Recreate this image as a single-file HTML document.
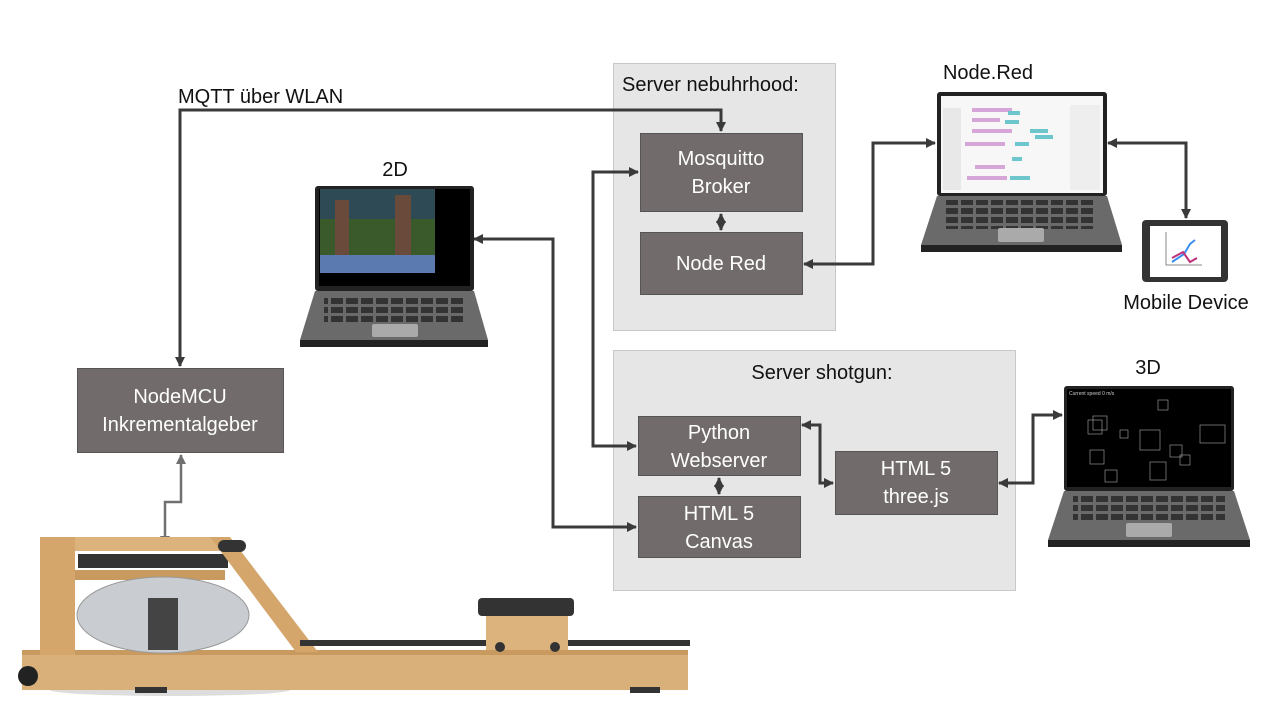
<!DOCTYPE html>
<html><head><meta charset="utf-8"><style>
html,body{margin:0;padding:0;background:#fff}
svg{display:block}
text{font-family:"Liberation Sans","DejaVu Sans",sans-serif}
</style></head><body>
<svg width="1280" height="720" viewBox="0 0 1280 720" xmlns="http://www.w3.org/2000/svg">
<defs>
<marker id="a" markerWidth="10" markerHeight="10" refX="9" refY="5" orient="auto-start-reverse" markerUnits="userSpaceOnUse"><path d="M0,0 L10,5 L0,10 z" fill="#3a3a3a"/></marker>
<marker id="g" markerWidth="10" markerHeight="10" refX="9" refY="5" orient="auto-start-reverse" markerUnits="userSpaceOnUse"><path d="M0,0 L10,5 L0,10 z" fill="#707070"/></marker>
<pattern id="keys" width="15" height="9" patternUnits="userSpaceOnUse"><rect x="1" y="1" width="12" height="6" fill="#333"/></pattern>
</defs>

<rect x="613.5" y="63.5" width="222" height="267" fill="#e6e6e6" stroke="#c8c8c8"/>
<text x="622" y="91" font-size="20" fill="#111">Server nebuhrhood:</text>
<rect x="613.5" y="350.5" width="402" height="240" fill="#e6e6e6" stroke="#c8c8c8"/>
<text x="822" y="379" font-size="20" fill="#111" text-anchor="middle">Server shotgun:</text>

<g fill="#716c6b" stroke="#555" stroke-width="1">
<rect x="640.5" y="133.5" width="162" height="78"/>
<rect x="640.5" y="232.5" width="162" height="62"/>
<rect x="638.5" y="416.5" width="162" height="59"/>
<rect x="638.5" y="496.5" width="162" height="61"/>
<rect x="835.5" y="451.5" width="162" height="63"/>
<rect x="77.5" y="368.5" width="206" height="84"/>
</g>
<g fill="#fff" font-size="20" text-anchor="middle">
<text x="721" y="165">Mosquitto</text><text x="721" y="193">Broker</text>
<text x="721" y="270">Node Red</text>
<text x="719" y="439">Python</text><text x="719" y="467">Webserver</text>
<text x="719" y="520">HTML 5</text><text x="719" y="548">Canvas</text>
<text x="916" y="475">HTML 5</text><text x="916" y="503">three.js</text>
<text x="180" y="403">NodeMCU</text><text x="180" y="431">Inkrementalgeber</text>
</g>

<g font-size="20" fill="#111">
<text x="178" y="103">MQTT über WLAN</text>
<text x="395" y="176" text-anchor="middle">2D</text>
<text x="988" y="79" text-anchor="middle">Node.Red</text>
<text x="1186" y="309" text-anchor="middle">Mobile Device</text>
<text x="1148" y="374" text-anchor="middle">3D</text>
</g>

<g fill="none" stroke="#3a3a3a" stroke-width="3">
<polyline points="180,366 180,110 721,110 721,131" marker-start="url(#a)" marker-end="url(#a)"/>
<line x1="721" y1="214" x2="721" y2="230" marker-start="url(#a)" marker-end="url(#a)"/>
<polyline points="638,172 593,172 593,446 636,446" marker-start="url(#a)" marker-end="url(#a)"/>
<polyline points="474,239 553,239 553,527 636,527" marker-start="url(#a)" marker-end="url(#a)"/>
<polyline points="804,264 873,264 873,143 935,143" marker-start="url(#a)" marker-end="url(#a)"/>
<polyline points="1108,143 1186,143 1186,218" marker-start="url(#a)" marker-end="url(#a)"/>
<polyline points="802,425 820,425 820,483 833,483" marker-start="url(#a)" marker-end="url(#a)"/>
<polyline points="999,483 1033,483 1033,415 1062,415" marker-start="url(#a)" marker-end="url(#a)"/>
<line x1="719" y1="478" x2="719" y2="494" marker-start="url(#a)" marker-end="url(#a)"/>
</g>
<polyline points="181,455 181,502 165,502 165,545" fill="none" stroke="#707070" stroke-width="2.5" marker-start="url(#g)" marker-end="url(#g)"/>

<rect x="315" y="186" width="159" height="105" rx="3" fill="#222"/>
<rect x="319" y="189" width="151" height="97" fill="#000"/>
<rect x="320" y="189" width="115" height="84" fill="#3b5a2c"/>
<rect x="320" y="189" width="115" height="30" fill="#2e4a55"/>
<rect x="335" y="200" width="14" height="70" fill="#6a4a3a"/>
<rect x="395" y="195" width="16" height="72" fill="#6a4a3a"/>
<rect x="320" y="255" width="115" height="18" fill="#5a7ab0"/>
<polygon points="315,291 474,291 488,340 300,340" fill="#6a6a6a"/>
<rect x="300" y="340" width="188" height="7" fill="#222"/>
<rect x="324" y="295" width="140" height="28" fill="url(#keys)"/>
<rect x="372" y="324" width="46" height="13" rx="2" fill="#aaa"/>

<rect x="937" y="92" width="170" height="104" rx="3" fill="#222"/>
<rect x="941" y="96" width="162" height="97" fill="#f7f7f7"/>
<rect x="943" y="108" width="18" height="82" fill="#e8e8e8"/>
<g fill="#d6a6d8"><rect x="972" y="108" width="40" height="4"/><rect x="972" y="118" width="28" height="4"/><rect x="972" y="129" width="40" height="4"/><rect x="965" y="142" width="40" height="4"/><rect x="975" y="165" width="30" height="4"/><rect x="967" y="176" width="40" height="4"/></g>
<g fill="#6cc6cc"><rect x="1008" y="111" width="12" height="4"/><rect x="1005" y="120" width="14" height="4"/><rect x="1030" y="129" width="18" height="4"/><rect x="1035" y="135" width="18" height="4"/><rect x="1015" y="142" width="14" height="4"/><rect x="1012" y="157" width="10" height="4"/><rect x="1010" y="176" width="20" height="4"/></g>
<rect x="1070" y="105" width="30" height="85" fill="#eee"/>
<polygon points="937,196 1107,196 1122,245 921,245" fill="#6a6a6a"/>
<rect x="921" y="245" width="201" height="7" fill="#222"/>
<rect x="945" y="200" width="150" height="29" fill="url(#keys)"/>
<rect x="998" y="228" width="46" height="14" rx="2" fill="#aaa"/>

<rect x="1142" y="220" width="86" height="62" rx="4" fill="#333"/>
<rect x="1150" y="226" width="71" height="51" fill="#fff"/>
<polyline points="1166,232 1166,265 1202,265" fill="none" stroke="#888" stroke-width="1"/>
<polyline points="1172,262 1184,254 1190,244 1195,240" fill="none" stroke="#3a8ef0" stroke-width="2"/>
<polyline points="1172,258 1183,252 1190,262 1197,258" fill="none" stroke="#c0307a" stroke-width="2"/>

<rect x="1064" y="386" width="170" height="105" rx="3" fill="#222"/>
<rect x="1067" y="389" width="164" height="98" fill="#000"/>
<g fill="none" stroke="#aaa" stroke-width="0.6">
<rect x="1088" y="420" width="14" height="14"/><rect x="1093" y="416" width="14" height="14"/><rect x="1158" y="400" width="10" height="10"/><rect x="1200" y="425" width="25" height="18"/><rect x="1090" y="450" width="14" height="14"/><rect x="1150" y="462" width="16" height="18"/><rect x="1120" y="430" width="8" height="8"/><rect x="1140" y="430" width="20" height="20"/><rect x="1170" y="445" width="12" height="12"/><rect x="1105" y="470" width="12" height="12"/><rect x="1180" y="455" width="10" height="10"/>
</g>
<text x="1069" y="395" font-size="5" fill="#ccc">Current speed 0 m/s</text>
<polygon points="1064,491 1234,491 1250,540 1048,540" fill="#6a6a6a"/>
<rect x="1048" y="540" width="202" height="7" fill="#222"/>
<rect x="1073" y="495" width="152" height="28" fill="url(#keys)"/>
<rect x="1126" y="523" width="46" height="14" rx="2" fill="#aaa"/>

<ellipse cx="170" cy="690" rx="120" ry="6" fill="#ddd"/>
<rect x="22" y="650" width="666" height="40" fill="#d9b07a"/>
<rect x="22" y="650" width="666" height="5" fill="#c89a60"/>
<rect x="40" y="537" width="35" height="118" fill="#d4a66c"/>
<rect x="75" y="537" width="145" height="14" fill="#dcb37c"/>
<rect x="75" y="570" width="150" height="10" fill="#c99a60"/>
<rect x="78" y="554" width="150" height="14" fill="#333"/>
<ellipse cx="163" cy="615" rx="86" ry="38" fill="#c9ccd0" stroke="#999"/>
<rect x="148" y="598" width="30" height="52" fill="#444"/>
<polygon points="210,537 230,537 318,652 296,652" fill="#d4a66c"/>
<rect x="218" y="540" width="28" height="12" rx="6" fill="#333"/>
<rect x="300" y="640" width="390" height="6" fill="#333"/>
<rect x="478" y="598" width="96" height="18" rx="4" fill="#333"/>
<rect x="486" y="616" width="82" height="34" fill="#dcb37c"/>
<circle cx="500" cy="647" r="5" fill="#333"/><circle cx="555" cy="647" r="5" fill="#333"/>
<circle cx="28" cy="676" r="10" fill="#222"/>
<rect x="135" y="687" width="32" height="6" fill="#333"/><rect x="630" y="687" width="30" height="6" fill="#333"/>
</svg>
</body></html>
